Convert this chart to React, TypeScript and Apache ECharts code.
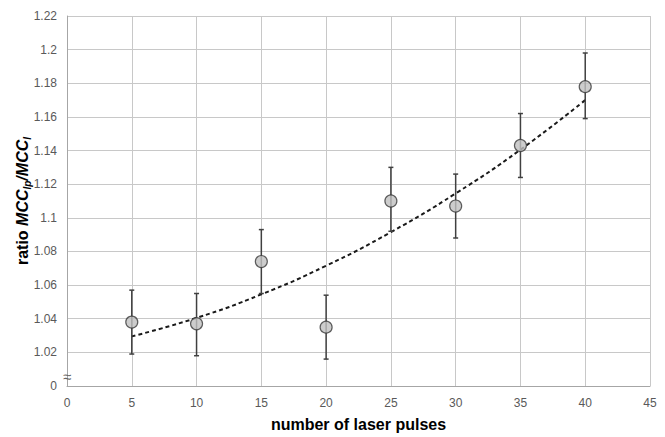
import React, { useEffect, useRef } from "react";
import * as echarts from "echarts";

const xValues = [5, 10, 15, 20, 25, 30, 35, 40];
const ratioValues = [1.038, 1.037, 1.074, 1.035, 1.110, 1.107, 1.143, 1.178];
const errorLow = [1.019, 1.018, 1.055, 1.016, 1.092, 1.088, 1.124, 1.159];
const errorHigh = [1.057, 1.055, 1.093, 1.054, 1.130, 1.126, 1.162, 1.198];
const trendValues = [1.0295, 1.0405, 1.0545, 1.0715, 1.0915, 1.1145, 1.1405, 1.170];

const FONT = "'Liberation Sans', Arial, sans-serif";

export default function App() {
  const ref = useRef<HTMLDivElement>(null);
  useEffect(() => {
    if (!ref.current) return;
    const chart = echarts.init(ref.current, null, { renderer: "svg" });
    const points = xValues.map((x, i) => [x, ratioValues[i]]);
    const errors = xValues.map((x, i) => [x, errorLow[i], errorHigh[i]]);
    const trend = xValues.map((x, i) => [x, trendValues[i]]);
    chart.setOption({
      animation: false,
      backgroundColor: "#ffffff",
      grid: { left: 67, right: 15, top: 16, bottom: 47, containLabel: false },
      xAxis: {
        type: "value",
        min: 0,
        max: 45,
        interval: 5,
        name: "number of laser pulses",
        nameLocation: "middle",
        nameGap: 30,
        nameMoveOverlap: false,
        nameTextStyle: { fontFamily: FONT, fontSize: 16, fontWeight: "bold", color: "#000" },
        axisLine: { lineStyle: { color: "#a6a6a6" } },
        axisTick: { show: false },
        axisLabel: { fontFamily: FONT, fontSize: 12, color: "#595959", margin: 11 },
        splitLine: { show: true, lineStyle: { color: "#c8c8c8", width: 1 } },
      },
      yAxis: {
        type: "value",
        min: 1.0,
        max: 1.22,
        interval: 0.02,
        name: "{n|ratio }{i|MCC}{s|Ip}{i|/MCC}{s|I}",
        nameLocation: "middle",
        nameGap: 35,
        nameMoveOverlap: false,
        nameRotate: 90,
        nameTextStyle: {
          fontFamily: FONT,
          rich: {
            n: { fontFamily: FONT, fontSize: 16, fontWeight: "bold", color: "#000", lineHeight: 20, verticalAlign: "middle" },
            i: { fontFamily: FONT, fontSize: 16, fontWeight: "bold", fontStyle: "italic", color: "#000", lineHeight: 20, verticalAlign: "middle" },
            s: { fontFamily: FONT, fontSize: 10, fontWeight: "bold", fontStyle: "italic", color: "#000", lineHeight: 20, verticalAlign: "bottom", padding: [6, 0, 0, 0] },
          },
        },
        axisLine: { show: true, lineStyle: { color: "#a6a6a6" } },
        axisTick: { show: false },
        axisLabel: {
          fontFamily: FONT,
          fontSize: 12,
          color: "#595959",
          margin: 10,
          formatter: (v: number) => (Math.abs(v - 1) < 1e-9 ? "0" : String(parseFloat(v.toFixed(2)))),
        },
        splitLine: { show: true, lineStyle: { color: "#c8c8c8", width: 1 } },
      },
      graphic: [
        {
          type: "text",
          x: 67,
          y: 376,
          style: { text: "≈", fontSize: 15, fill: "#666", align: "center", verticalAlign: "middle", fontFamily: FONT },
          z: 100,
        },
      ],
      series: [
        {
          type: "line",
          data: trend,
          smooth: true,
          showSymbol: false,
          symbol: "none",
          lineStyle: { color: "#1a1a1a", width: 2, type: [4, 3] },
          z: 2,
        },
        {
          type: "custom",
          data: errors,
          renderItem: (params: any, api: any) => {
            const x = api.value(0);
            const lo = api.coord([x, api.value(1)]);
            const hi = api.coord([x, api.value(2)]);
            const cap = 2.5;
            const style = { stroke: "#404040", lineWidth: 1.5 };
            return {
              type: "group",
              children: [
                { type: "line", shape: { x1: lo[0], y1: lo[1], x2: hi[0], y2: hi[1] }, style },
                { type: "line", shape: { x1: hi[0] - cap, y1: hi[1], x2: hi[0] + cap, y2: hi[1] }, style },
                { type: "line", shape: { x1: lo[0] - cap, y1: lo[1], x2: lo[0] + cap, y2: lo[1] }, style },
              ],
            };
          },
          z: 3,
        },
        {
          type: "scatter",
          data: points,
          symbol: "circle",
          symbolSize: 12,
          itemStyle: { color: "#c0c0c0", borderColor: "#3a3a3a", borderWidth: 1.2 },
          z: 4,
        },
      ],
    });
    return () => chart.dispose();
  }, []);
  return <div ref={ref} style={{ width: 665, height: 437, position: "absolute", left: 0, top: 0 }} />;
}
